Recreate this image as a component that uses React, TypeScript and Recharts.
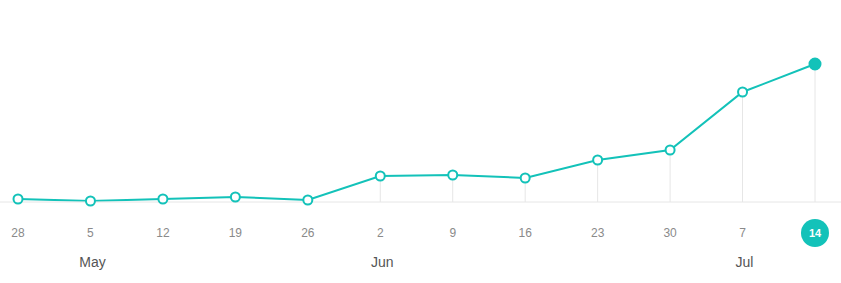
import React from "react";
import { ComposedChart, Line, XAxis, YAxis, ReferenceLine } from "recharts";

const days = ["28", "5", "12", "19", "26", "2", "9", "16", "23", "30", "7", "14"];
const months = ["", "May", "", "", "", "Jun", "", "", "", "", "Jul", ""];
const values = [3, 1, 3, 5, 2, 26, 27, 24, 42, 52, 110, 138];

const data = days.map((d, i) => ({ day: d, key: String(i), month: months[i], value: values[i] }));

const TEAL = "#13c2b9";
const FONT = "'Liberation Sans', Arial, sans-serif";

const Tick = (props: any) => {
  const { x, y, payload } = props;
  const i = payload.index;
  const isLast = i === data.length - 1;
  const top = y - 8;
  return (
    <g>
      {isLast && <circle cx={x} cy={top + 31} r={14} fill={TEAL} />}
      <text
        x={x}
        y={top + 31}
        textAnchor="middle"
        dominantBaseline="central"
        fontFamily={FONT}
        fontSize={isLast ? 11 : 12}
        fontWeight={isLast ? 700 : 400}
        fill={isLast ? "#ffffff" : "#8a8a8a"}
      >
        {data[i].day}
      </text>
      {data[i].month && (
        <text
          x={x + 2}
          y={top + 60}
          textAnchor="middle"
          dominantBaseline="central"
          fontFamily={FONT}
          fontSize={14}
          fill="#555555"
        >
          {data[i].month}
        </text>
      )}
    </g>
  );
};

const Dot = (props: any) => {
  const { cx, cy, index } = props;
  const isLast = index === data.length - 1;
  return (
    <circle
      key={index}
      cx={cx}
      cy={cy}
      r={isLast ? 5.5 : 4.5}
      fill={isLast ? TEAL : "#ffffff"}
      stroke={TEAL}
      strokeWidth={2}
    />
  );
};

export default function App() {
  return (
    <div style={{ position: "absolute", left: 0, top: 0, width: 841, height: 283, background: "#fff" }}>
      <ComposedChart width={841} height={283} data={data} margin={{ top: 42, right: 0, bottom: 0, left: 0 }}>
        <XAxis
          dataKey="key"
          type="category"
          scale="point"
          padding={{ left: 18, right: 26 }}
          height={81}
          axisLine={{ stroke: "#e6e6e6", strokeWidth: 1 }}
          tickLine={false}
          tick={<Tick />}
          interval={0}
        />
        <YAxis hide domain={[0, 160]} />
        {data.map((d) => (
          <ReferenceLine
            key={d.key}
            segment={[
              { x: d.key, y: 0 },
              { x: d.key, y: d.value },
            ]}
            stroke="#e6e6e6"
            strokeWidth={1}
          />
        ))}
        <Line
          dataKey="value"
          type="linear"
          stroke={TEAL}
          strokeWidth={2}
          dot={<Dot />}
          activeDot={false}
          isAnimationActive={false}
        />
      </ComposedChart>
    </div>
  );
}
